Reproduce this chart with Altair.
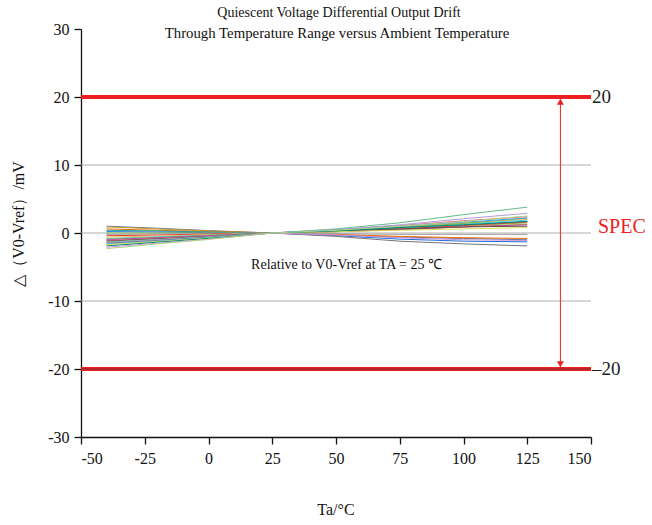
import altair as alt
import pandas as pd

# ---- data ----
temps = [-40, -20, 0, 25, 50, 75, 100, 125]

s01 = [1.0, 0.7, 0.35, 0, -0.3, -0.6, -0.8, -1.0]
s02 = [0.9, 0.6, 0.3, 0, 0.2, 0.5, 0.9, 1.3]
s03 = [0.6, 0.4, 0.2, 0, -0.2, -0.5, -0.7, -0.8]
s04 = [0.4, 0.3, 0.15, 0, 0.3, 0.7, 1.2, 1.7]
s05 = [0.2, 0.15, 0.05, 0, -0.4, -0.9, -1.2, -1.3]
s06 = [0.0, 0.0, 0.0, 0, 0.2, 0.6, 1.0, 1.5]
s07 = [-0.2, -0.15, -0.1, 0, -0.1, -0.2, -0.2, -0.2]
s08 = [-0.4, -0.3, -0.15, 0, 0.25, 0.6, 1.1, 1.6]
s09 = [-0.6, -0.45, -0.25, 0, 0.4, 0.9, 1.5, 2.0]
s10 = [-0.8, -0.55, -0.3, 0, 0.3, 0.8, 1.3, 1.9]
s11 = [-0.9, -0.65, -0.35, 0, 0.35, 0.8, 1.4, 2.2]
s12 = [-1.0, -0.7, -0.4, 0, 0.2, 0.5, 0.9, 1.2]
s13 = [-1.1, -0.8, -0.45, 0, 0.5, 1.1, 1.8, 2.4]
s14 = [-1.2, -0.85, -0.5, 0, 0.3, 0.6, 0.9, 1.0]
s15 = [-1.3, -0.95, -0.55, 0, 0.6, 1.5, 2.7, 3.8]
s16 = [-1.4, -1.0, -0.6, 0, 0.5, 1.2, 2.1, 2.9]
s17 = [-1.5, -1.1, -0.65, 0, -0.5, -1.2, -1.6, -1.9]
s18 = [-1.6, -1.2, -0.7, 0, 0.4, 1.0, 1.6, 2.2]
s19 = [-1.7, -1.25, -0.75, 0, 0.2, 0.4, 0.6, 0.8]
s20 = [-1.9, -1.35, -0.8, 0, 0.3, 0.8, 1.2, 1.7]
s21 = [-2.1, -1.5, -0.9, 0, -0.3, -0.7, -1.0, -1.1]
s22 = [-2.3, -1.6, -0.95, 0, 0.4, 1.0, 1.7, 2.5]

series = {
    "S01": s01, "S02": s02, "S03": s03, "S04": s04, "S05": s05, "S06": s06,
    "S07": s07, "S08": s08, "S09": s09, "S10": s10, "S11": s11, "S12": s12,
    "S13": s13, "S14": s14, "S15": s15, "S16": s16, "S17": s17, "S18": s18,
    "S19": s19, "S20": s20, "S21": s21, "S22": s22,
}
palette = [
    "#5b6f9a", "#c9a227", "#ef6c00", "#26a69a", "#1e6fd9", "#8bc34a",
    "#9e9e9e", "#e53935", "#ffb74d", "#4dd0e1", "#7cb342", "#ab47bc",
    "#f06292", "#6d4c41", "#66bb8a", "#b39ddb", "#757575", "#42a5f5",
    "#d4e157", "#00897b", "#ce93d8", "#aed581",
]

grid_vals = [-10, 0, 10]
spec_vals = [20, -20]
x_ticks = [-50 + 12.5 * i for i in range(17)]
y_ticks = [-30 + 5 * i for i in range(13)]

title1 = "Quiescent Voltage Differential Output Drift"
title2 = "Through Temperature Range versus Ambient Temperature"
note = "Relative to V0-Vref at TA = 25 \u2103"
y_title = "\u25b3\uff08V0-Vref\uff09/mV"
x_title = "Ta/\u00b0C"

rows = []
for name, vals in series.items():
    for t, v in zip(temps, vals):
        rows.append({"series": name, "ta": t, "dv": v})
df = pd.DataFrame(rows)

FONT = "Liberation Serif"
xs = alt.Scale(domain=[-50, 150], nice=False, zero=False)
ys = alt.Scale(domain=[-30, 30], nice=False, zero=False)

x_axis = alt.Axis(
    values=x_ticks,
    labelExpr="datum.value % 25 === 0 ? toString(datum.value) : ''",
    tickSize={"condition": {"test": "datum.value % 25 === 0", "value": 7}, "value": 4},
    grid=False, title=None, labelPadding=6,
)
y_axis = alt.Axis(
    values=y_ticks,
    labelExpr="datum.value % 10 === 0 ? toString(datum.value) : ''",
    tickSize={"condition": {"test": "datum.value % 10 === 0", "value": 7}, "value": 4},
    grid=False, title=None, labelPadding=5,
)

lines = alt.Chart(df).mark_line(strokeWidth=1).encode(
    x=alt.X("ta:Q", scale=xs, axis=x_axis),
    y=alt.Y("dv:Q", scale=ys, axis=y_axis),
    color=alt.Color("series:N", scale=alt.Scale(domain=list(series.keys()), range=palette), legend=None),
    detail="series:N",
)

grid_df = pd.DataFrame({"y": grid_vals, "x0": -50, "x1": 150})
grid = alt.Chart(grid_df).mark_rule(color="#9a9a9a", strokeWidth=0.8).encode(
    x=alt.X("x0:Q", scale=xs), x2="x1:Q", y=alt.Y("y:Q", scale=ys)
)

spec_df = pd.DataFrame({"y": spec_vals, "x0": -50, "x1": 150})
spec = alt.Chart(spec_df).mark_rule(color="#f02020", strokeWidth=4).encode(
    x=alt.X("x0:Q", scale=xs), x2="x1:Q", y=alt.Y("y:Q", scale=ys)
)
spec_low = alt.Chart(pd.DataFrame({"y": [-20], "x0": -50, "x1": 150})).mark_rule(
    color="#6a3030", strokeWidth=0.9
).encode(x=alt.X("x0:Q", scale=xs), x2="x1:Q", y=alt.Y("y:Q", scale=ys))

arrow_x = 138
arrow = alt.Chart(pd.DataFrame({"x": [arrow_x], "y0": [20], "y1": [-20]})).mark_rule(
    color="#f02020", strokeWidth=1
).encode(x=alt.X("x:Q", scale=xs), y=alt.Y("y0:Q", scale=ys), y2="y1:Q")

head_up = alt.Chart(pd.DataFrame({"x": [arrow_x], "y": [19.3]})).mark_point(
    shape="triangle-up", filled=True, color="#f02020", size=50, opacity=1
).encode(x=alt.X("x:Q", scale=xs), y=alt.Y("y:Q", scale=ys))
head_down = alt.Chart(pd.DataFrame({"x": [arrow_x], "y": [-19.3]})).mark_point(
    shape="triangle-down", filled=True, color="#f02020", size=50, opacity=1
).encode(x=alt.X("x:Q", scale=xs), y=alt.Y("y:Q", scale=ys))

right_lbl = alt.Chart(pd.DataFrame({"x": [150, 150], "y": [20, -20], "t": ["20", "\u201320"]})).mark_text(
    align="left", baseline="middle", font=FONT, fontSize=19, color="#222222", dx=1
).encode(x=alt.X("x:Q", scale=xs), y=alt.Y("y:Q", scale=ys), text="t:N")

spec_lbl = alt.Chart(pd.DataFrame({"x": [150], "y": [0.9], "t": ["SPEC"]})).mark_text(
    align="left", baseline="middle", font=FONT, fontSize=20, color="#f02020", dx=7
).encode(x=alt.X("x:Q", scale=xs), y=alt.Y("y:Q", scale=ys), text="t:N")

note_lbl = alt.Chart(pd.DataFrame({"x": [16.7], "y": [-4.7], "t": [note]})).mark_text(
    align="left", baseline="middle", font=FONT, fontSize=14, color="#111111"
).encode(x=alt.X("x:Q", scale=xs), y=alt.Y("y:Q", scale=ys), text="t:N")

def px_text(txt, x, y, size, angle=0):
    return alt.Chart(pd.DataFrame({"t": [txt]})).mark_text(
        align="center", baseline="middle", font=FONT, fontSize=size, color="#111111", angle=angle
    ).encode(x=alt.value(x), y=alt.value(y), text="t:N")

t1 = px_text(title1, 258, -16, 14)
t2 = px_text(title2, 256, 5, 14.8)
xt = px_text(x_title, 255, 481, 16)
yt = px_text(y_title, -62, 195, 16, angle=270)

chart = alt.layer(
    grid, spec, spec_low, lines, arrow, head_up, head_down,
    right_lbl, spec_lbl, note_lbl, t1, t2, xt, yt,
).properties(
    width=510, height=408,
    autosize=alt.AutoSizeParams(type="none"),
    padding={"left": 81, "top": 29, "right": 61, "bottom": 88},
    background="white",
).configure_view(stroke=None).configure_axis(
    labelFont=FONT, labelFontSize=16, labelColor="#111111",
    domainColor="#111111", domainWidth=1.3, tickColor="#111111", tickWidth=1.3,
)

chart.save("out.html", embed_options={"renderer": "svg", "actions": False})
